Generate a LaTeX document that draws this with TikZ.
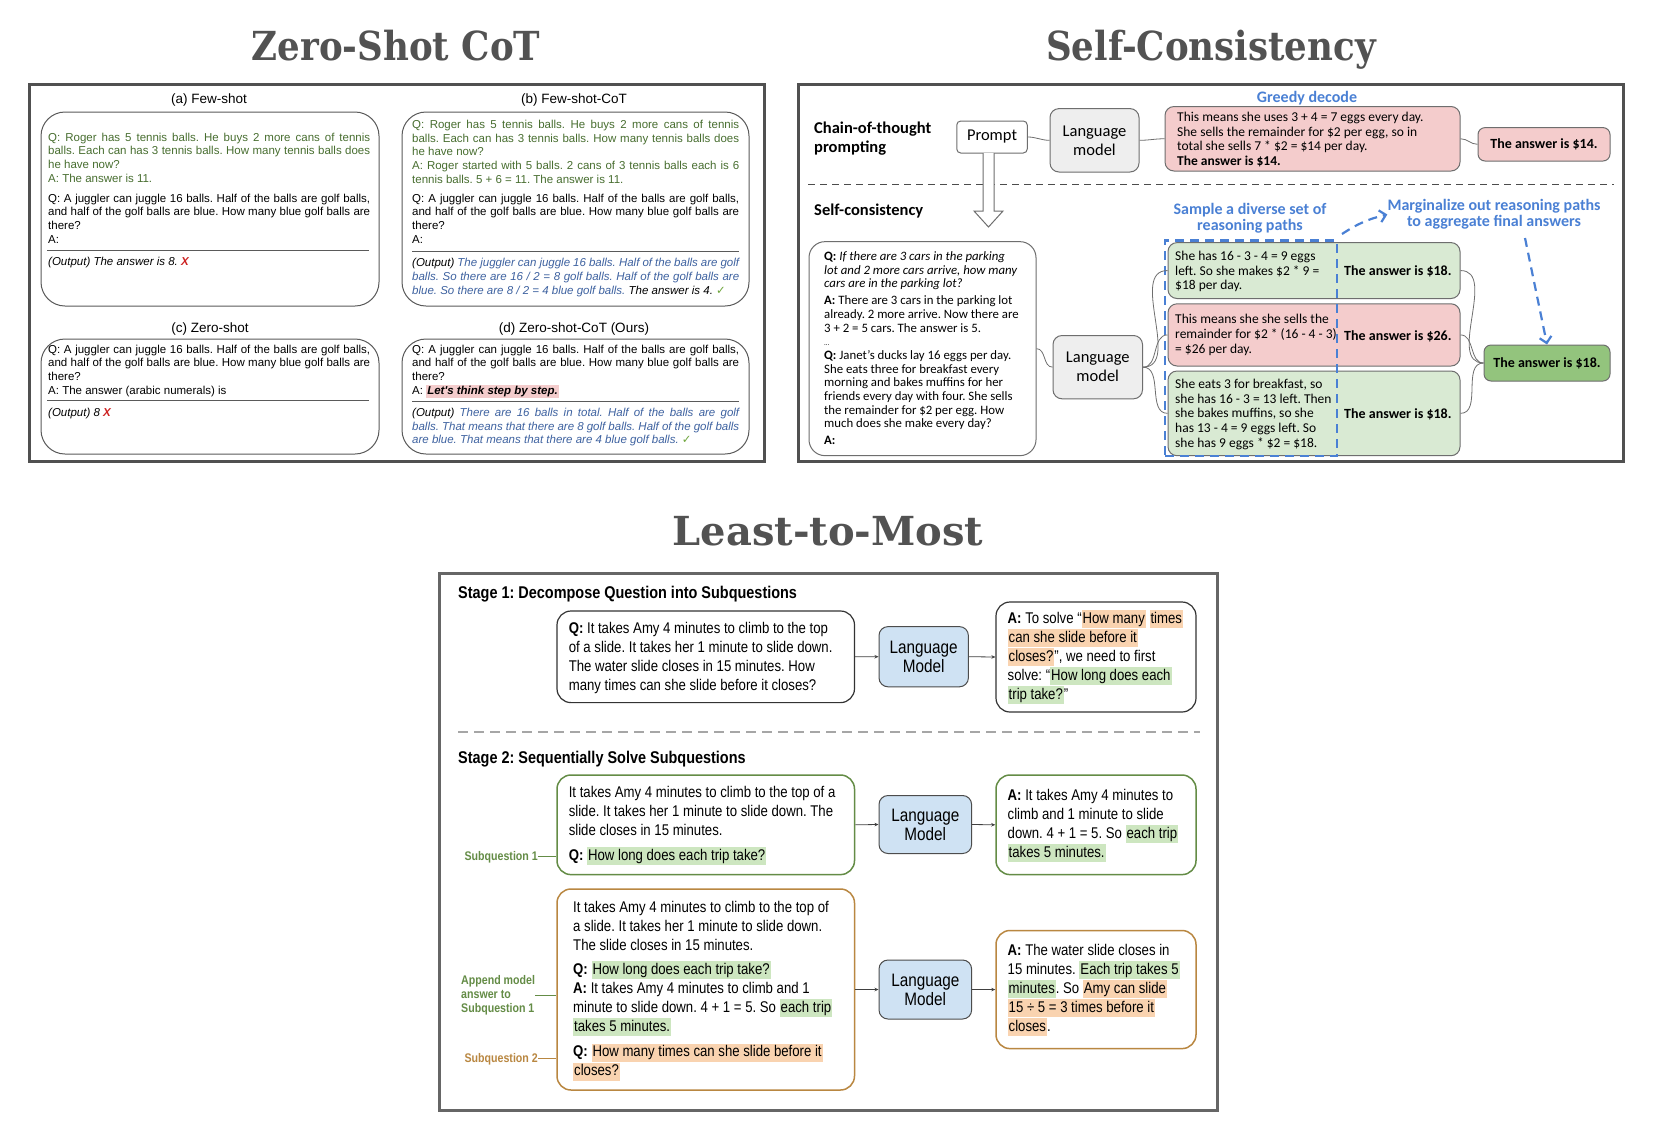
\documentclass[tikz,border=0pt]{standalone}
\usepackage{fontspec}
\usetikzlibrary{arrows.meta}
\setmainfont{Liberation Sans}
\newfontfamily\zf{Liberation Sans}
\newfontfamily\scf{Carlito}
\newfontfamily\lmf[FakeStretch=0.85]{Liberation Sans}
\newfontfamily\ttlf[FakeStretch=0.89]{DejaVu Serif}
\newfontfamily\ttlfw[FakeStretch=1.0]{DejaVu Serif}
\newfontfamily\djv{DejaVu Sans}
\frenchspacing
\definecolor{framec}{RGB}{80,80,80}
\definecolor{titlegray}{RGB}{82,82,82}
\definecolor{zedge}{RGB}{90,90,90}
\definecolor{zgreen}{RGB}{72,110,48}
\definecolor{zblue}{RGB}{62,98,160}
\definecolor{xred}{RGB}{205,35,35}
\definecolor{okgreen}{RGB}{110,165,60}
\definecolor{hlpink}{RGB}{244,204,204}
\definecolor{scblue}{RGB}{74,128,212}
\definecolor{fgreen}{RGB}{217,234,211}
\definecolor{fred}{RGB}{244,204,204}
\definecolor{fgray}{RGB}{238,238,238}
\definecolor{fgreendk}{RGB}{147,196,125}
\definecolor{lmblue}{RGB}{207,226,243}
\definecolor{bgreen}{RGB}{100,140,70}
\definecolor{borange}{RGB}{185,135,65}
\definecolor{hlg}{RGB}{205,230,192}
\definecolor{hlo}{RGB}{249,211,176}
\definecolor{edge}{RGB}{110,110,110}
\newcommand\pbx[2]{\parbox[t]{#1}{#2}}
\newcommand\jl[1]{\makebox[\linewidth][s]{#1}}
\newcommand\zfont{\zf\fontsize{11.5}{13.7}\selectfont}
\newcommand\scfont{\scf\fontsize{13.5}{14.8}\selectfont}
\newcommand\lmfont{\lmf\fontsize{15.5}{19}\selectfont}
\newcommand\xmk{{\color{xred}\bfseries\itshape X}}
\newcommand\cmk{{\djv\color{okgreen}\fontsize{11.5}{12}\selectfont ✓}}
\newcommand\hlg[1]{{\setlength\fboxsep{1pt}\colorbox{hlg}{\rule[-3.8pt]{0pt}{16pt}#1}}}
\newcommand\hlo[1]{{\setlength\fboxsep{1pt}\colorbox{hlo}{\rule[-3.8pt]{0pt}{16pt}#1}}}
\newcommand\hlp[1]{{\setlength\fboxsep{1pt}\colorbox{hlpink}{\rule[-2.5pt]{0pt}{10.5pt}#1}}}
\begin{document}
\begin{tikzpicture}[x=1pt,y=-1pt,
 txt/.style={anchor=base west,inner sep=0pt},
 ttl/.style={anchor=base,inner sep=0pt,text=titlegray,font=\ttlf\bfseries\fontsize{40}{44}\selectfont},
 framebox/.style={draw=framec,line width=3pt},
 zbox/.style={draw=zedge,line width=1pt,rounded corners=24pt,inner sep=0pt},
 zrule/.style={draw=zedge,line width=1pt},
 zlab/.style={inner sep=0pt,font=\zf\fontsize{13.5}{16}\selectfont},
 scbox/.style={draw=edge,line width=1pt,rounded corners=7pt,inner sep=0pt,align=center,font=\scf\fontsize{16.5}{19}\selectfont},
 scans/.style={scbox,font=\scf\bfseries\fontsize{14}{16}\selectfont},
 sclab/.style={txt,font=\scf\bfseries\fontsize{16.5}{19}\selectfont},
 bluelab/.style={inner sep=0pt,align=center,text=scblue,font=\scf\bfseries\fontsize{16}{16}\selectfont},
 conn/.style={draw=edge,line width=0.8pt},
 barrow/.style={draw=scblue,line width=2.2pt,dash pattern=on 9pt off 6pt,-{Straight Barb[length=6pt,width=12pt]}},
 hollow/.style={draw=edge,fill=white,line width=1pt},
 qbx/.style={draw=black!80,line width=1.2pt,rounded corners=14pt,inner sep=0pt},
 lmb/.style={draw=black!70,fill=lmblue,line width=1pt,rounded corners=9pt,inner sep=0pt,align=center,font=\lmf\fontsize{18}{19}\selectfont},
 larr/.style={draw=black!75,line width=0.8pt,-{Stealth[length=4pt,width=3.5pt]}},
 sqlab/.style={inner sep=0pt,font=\lmf\bfseries\fontsize{12.5}{14}\selectfont},
 stlab/.style={txt,font=\lmf\bfseries\fontsize{17}{19}\selectfont}
]
\fill[white] (0,0) rectangle (1654,1136);
\path[use as bounding box] (0,0) rectangle (1654,1136);

% ---------- titles
\node[ttl] (t1) at (396,60) {Zero-Shot CoT};
\node[ttl] (t2) at (1211,60) {Self-Consistency};
\node[ttl,font=\ttlfw\bfseries\fontsize{40}{44}\selectfont] (t3) at (828,545) {Least-to-Most};

% ---------- frames
\draw[framebox] (29.5,84) rectangle (764,461);
\draw[framebox] (798.6,84) rectangle (1623.6,461);
\draw[framebox,draw=black!60] (439,573) rectangle (1217,1110);

% ================= ZERO-SHOT COT =================
\node[zlab] (la) at (209,100) {(a) Few-shot};
\node[zlab] (lb) at (574,100) {(b) Few-shot-CoT};
\node[zlab] (lc) at (210,329) {(c) Zero-shot};
\node[zlab] (ld) at (574,329) {(d) Zero-shot-CoT (Ours)};

\node[zbox,minimum width=338,minimum height=194] (ba) at (210,209) {};
\node[zbox,minimum width=347,minimum height=194] (bb) at (575.5,209) {};
\node[zbox,minimum width=338,minimum height=115] (bc) at (210,396.5) {};
\node[zbox,minimum width=347,minimum height=115] (bd) at (575.5,396.5) {};

% (a)
\node[txt,text=zgreen] (ta1) at (48,141) {\pbx{322pt}{\zfont
\jl{Q: Roger has 5 tennis balls. He buys 2 more cans of tennis}\\
\jl{balls. Each can has 3 tennis balls. How many tennis balls does}\\
he have now?\\
A: The answer is 11.}};
\node[txt] (ta2) at (48,202) {\pbx{322pt}{\zfont
\jl{Q: A juggler can juggle 16 balls. Half of the balls are golf balls,}\\
\jl{and half of the golf balls are blue. How many blue golf balls are}\\
there?\\
A:}};
\draw[zrule] (47,250) -- (369,250);
\node[txt] (ta3) at (48,265.5) {\zfont\itshape (Output) The answer is 8. \xmk};

% (b)
\node[txt,text=zgreen] (tb1) at (412,128.5) {\pbx{327pt}{\zfont
\jl{Q: Roger has 5 tennis balls. He buys 2 more cans of tennis}\\
\jl{balls. Each can has 3 tennis balls. How many tennis balls does}\\
he have now?\\
\jl{A: Roger started with 5 balls. 2 cans of 3 tennis balls each is 6}\\
tennis balls. 5 + 6 = 11. The answer is 11.}};
\node[txt] (tb2) at (412,202) {\pbx{327pt}{\zfont
\jl{Q: A juggler can juggle 16 balls. Half of the balls are golf balls,}\\
\jl{and half of the golf balls are blue. How many blue golf balls are}\\
there?\\
A:}};
\draw[zrule] (412,251) -- (739,251);
\node[txt] (tb3) at (412,266.7) {\pbx{327pt}{\zfont\itshape
\jl{(Output) \textcolor{zblue}{The juggler can juggle 16 balls. Half of the balls are golf}}\\
\jl{\color{zblue}balls. So there are 16 / 2 = 8 golf balls. Half of the golf balls are}\\
{\color{zblue}blue. So there are 8 / 2 = 4 blue golf balls.} The answer is 4. \cmk}};

% (c)
\node[txt] (tc1) at (48,353) {\pbx{322pt}{\zfont
\jl{Q: A juggler can juggle 16 balls. Half of the balls are golf balls,}\\
\jl{and half of the golf balls are blue. How many blue golf balls are}\\
there?\\
A: The answer (arabic numerals) is}};
\draw[zrule] (47,400) -- (369,400);
\node[txt] (tc2) at (48,416.5) {\zfont\itshape (Output) 8 \xmk};

% (d)
\node[txt] (td1) at (412,353) {\pbx{327pt}{\zfont
\jl{Q: A juggler can juggle 16 balls. Half of the balls are golf balls,}\\
\jl{and half of the golf balls are blue. How many blue golf balls are}\\
there?\\
A: \hlp{\bfseries\itshape Let's think step by step.}}};
\draw[zrule] (412,401) -- (739,401);
\node[txt] (td2) at (412,416.5) {\pbx{327pt}{\zfont\itshape
\jl{(Output) \textcolor{zblue}{There are 16 balls in total. Half of the balls are golf}}\\
\jl{\color{zblue}balls. That means that there are 8 golf balls. Half of the golf balls}\\
{\color{zblue}are blue. That means that there are 4 blue golf balls.} \cmk}};

% ================= SELF-CONSISTENCY =================
\node[sclab] (cot) at (814,133) {\pbx{160pt}{Chain-of-thought\\prompting}};
\node[scbox,minimum width=70.5,minimum height=32,rounded corners=4pt] (prompt) at (992,137) {Prompt};
\node[scbox,fill=fgray,minimum width=89,minimum height=63.4,rounded corners=9pt] (lmtop) at (1094.5,140.3) {Language\\model};
\node[bluelab] (greedy) at (1307,98) {Greedy decode};
\node[scbox,fill=fred,minimum width=295,minimum height=64.5,rounded corners=9pt] (redtop) at (1312.5,138.75) {};
\node[txt] (redtxt) at (1177,121.2) {\pbx{280pt}{\scfont This means she uses 3 + 4 = 7 eggs every day.\\
She sells the remainder for \$2 per egg, so in\\
total she sells 7 * \$2 = \$14 per day.\\
\textbf{The answer is \$14.}}};
\node[scans,fill=fred,minimum width=132,minimum height=33.4] (anstop) at (1544,144.3) {The answer is \$14.};
\draw[conn] (prompt.east) to[out=0,in=180] (lmtop.west);
\draw[conn] (lmtop.east) to[out=0,in=180] (redtop.west);
\draw[conn] (redtop.east) to[out=0,in=180] (anstop.west);

\draw[draw=black!70,line width=1.5pt,dash pattern=on 7pt off 5pt] (808,184.6) -- (1614,184.6);
\draw[hollow] (983,153) -- (983,211) -- (974,211) -- (988.5,227) -- (1003,211) -- (994,211) -- (994,153);

\node[sclab] (sclabel) at (814,215.5) {Self-consistency};
\node[bluelab] (sample) at (1250,218) {Sample a diverse set of\\reasoning paths};
\node[bluelab] (marg) at (1494,214.5) {Marginalize out reasoning paths\\to aggregate final answers};

\node[scbox,minimum width=227,minimum height=214,rounded corners=16pt] (qbox) at (922.5,348.65) {};
\node[txt] (qtxt) at (824,260.3) {\pbx{210pt}{\scf\fontsize{12.8}{13.7}\selectfont
\textbf{Q:} \textit{If there are 3 cars in the parking}\\
\textit{lot and 2 more cars arrive, how many}\\
\textit{cars are in the parking lot?}\\[3.2pt]
\textbf{A:} There are 3 cars in the parking lot\\
already. 2 more arrive. Now there are\\
3 + 2 = 5 cars. The answer is 5.\\
{\fontsize{7}{8}\selectfont ...}\\
\textbf{Q:} Janet’s ducks lay 16 eggs per day.\\
She eats three for breakfast every\\
morning and bakes muffins for her\\
friends every day with four. She sells\\
the remainder for \$2 per egg. How\\
much does she make every day?\\[3.3pt]
\textbf{A:}}};

\node[scbox,fill=fgray,minimum width=89.5,minimum height=63.3,rounded corners=9pt] (lmmid) at (1097.75,367.15) {Language\\model};

\node[scbox,fill=fgreen,minimum width=292,minimum height=55.9,rounded corners=9pt] (g1) at (1314,270.55) {};
\node[txt] (g1t) at (1175,260.2) {\pbx{165pt}{\scfont She has 16 - 3 - 4 = 9 eggs\\left. So she makes \$2 * 9 =\\\$18 per day.}};
\node[txt,font=\scf\bfseries\fontsize{14}{16}\selectfont] (g1a) at (1344,275) {The answer is \$18.};

\node[scbox,fill=fred,minimum width=292,minimum height=62.2,rounded corners=9pt] (r2) at (1314,334.9) {};
\node[txt] (r2t) at (1175,323.8) {\pbx{165pt}{\scfont This means she she sells the\\remainder for \$2 * (16 - 4 - 3)\\= \$26 per day.}};
\node[txt,font=\scf\bfseries\fontsize{14}{16}\selectfont] (r2a) at (1344,340.5) {The answer is \$26.};

\node[scbox,fill=fgreen,minimum width=292,minimum height=84.7,rounded corners=9pt] (g3) at (1314,413.35) {};
\node[txt] (g3t) at (1175,388.2) {\pbx{165pt}{\scfont She eats 3 for breakfast, so\\she has 16 - 3 = 13 left. Then\\she bakes muffins, so she\\has 13 - 4 = 9 eggs left. So\\she has 9 eggs * \$2 = \$18.}};
\node[txt,font=\scf\bfseries\fontsize{14}{16}\selectfont] (g3a) at (1344,418.6) {The answer is \$18.};

\node[scans,fill=fgreendk,minimum width=126,minimum height=36] (final) at (1547,363) {The answer is \$18.};

\node[draw=scblue,line width=2.2pt,dash pattern=on 9pt off 6pt,minimum width=172,minimum height=215.2,inner sep=0pt] (bbox) at (1251,348.1) {};

\draw[conn] (qbox.east) to[out=0,in=180] (lmmid.west);
\draw[conn] (lmmid.east) to[out=0,in=180] (g1.west);
\draw[conn] (lmmid.east) to[out=0,in=180] (r2.west);
\draw[conn] (lmmid.east) to[out=0,in=180] (g3.west);
\draw[conn] (g1.east) to[out=0,in=180] (final.west);
\draw[conn] (r2.east) to[out=0,in=180] (final.west);
\draw[conn] (g3.east) to[out=0,in=180] (final.west);

\coordinate (mstart) at (1342,234);
\coordinate (vstart) at (1525,238);
\draw[barrow] (mstart) to[bend left=10] (marg.west);
\draw[barrow] (vstart) -- (final.north);

% ================= LEAST-TO-MOST =================
\node[stlab] (st1) at (458,598.5) {Stage 1: Decompose Question into Subquestions};
\node[qbx,minimum width=297.5,minimum height=91.6] (s1q) at (705.75,656.8) {};
\node[txt] (s1qt) at (568.6,633) {\pbx{290pt}{\lmfont \textbf{Q:} It takes Amy 4 minutes to climb to the top\\of a slide. It takes her 1 minute to slide down.\\The water slide closes in 15 minutes. How\\many times can she slide before it closes?}};
\node[lmb,minimum width=89.4,minimum height=60.2] (s1lm) at (923.7,656.7) {Language\\Model};
\node[qbx,minimum width=200,minimum height=110] (s1a) at (1096,657) {};
\node[txt] (s1at) at (1007.5,623.5) {\pbx{188pt}{\lmfont \textbf{A:} To solve “\hlo{How many} \hlo{times}\\\hlo{can she slide before it}\\\hlo{closes?}”, we need to first\\solve: “\hlg{How long does each}\\\hlg{trip take?}”}};
\draw[larr] (s1q.east) -- (s1lm.west);
\draw[larr] (s1lm.east) -- (s1a.west);

\draw[draw=black!35,line width=2.5pt,dash pattern=on 10pt off 6pt] (458,732) -- (1199.5,732);

\node[stlab] (st2) at (458,763) {Stage 2: Sequentially Solve Subquestions};
\node[qbx,draw=bgreen,line width=1.5pt,minimum width=297.5,minimum height=99.6] (s2q) at (705.75,824.8) {};
\node[txt] (s2qt) at (568.6,797) {\pbx{290pt}{\lmfont It takes Amy 4 minutes to climb to the top of a\\slide. It takes her 1 minute to slide down. The\\slide closes in 15 minutes.\\[6.6pt]\textbf{Q:} \hlg{How long does each trip take?}}};
\node[lmb,minimum width=92.6,minimum height=58] (s2lm) at (925.3,824.5) {Language\\Model};
\node[qbx,draw=bgreen,line width=1.5pt,minimum width=200,minimum height=99.6] (s2a) at (1096,824.8) {};
\node[txt] (s2at) at (1007.5,800.5) {\pbx{188pt}{\lmfont \textbf{A:} It takes Amy 4 minutes to\\climb and 1 minute to slide\\down. 4 + 1 = 5. So \hlg{each trip}\\\hlg{takes 5 minutes.}}};
\draw[larr] (s2q.east) -- (s2lm.west);
\draw[larr] (s2lm.east) -- (s2a.west);
\node[sqlab,text=bgreen,anchor=base east] (sq1) at (538,860) {Subquestion 1};
\draw[bgreen,line width=1pt] (sq1.east) -- (sq1.east -| s2q.west);

\node[qbx,draw=borange,line width=1.5pt,minimum width=297.5,minimum height=201] (s3q) at (705.75,989.5) {};
\node[txt] (s3qt) at (573,912.3) {\pbx{285pt}{\lmfont It takes Amy 4 minutes to climb to the top of\\a slide. It takes her 1 minute to slide down.\\The slide closes in 15 minutes.\\[5.3pt]\textbf{Q:} \hlg{How long does each trip take?}\\\textbf{A:} It takes Amy 4 minutes to climb and 1\\minute to slide down. 4 + 1 = 5. So \hlg{each trip}\\\hlg{takes 5 minutes.}\\[6.3pt]\textbf{Q:} \hlo{How many times can she slide before it}\\\hlo{closes?}}};
\node[lmb,minimum width=92.6,minimum height=59] (s3lm) at (925.3,989.5) {Language\\Model};
\node[qbx,draw=borange,line width=1.5pt,minimum width=200,minimum height=118.1] (s3a) at (1096,989.55) {};
\node[txt] (s3at) at (1007.5,955.5) {\pbx{188pt}{\lmfont \textbf{A:} The water slide closes in\\15 minutes. \hlg{Each trip takes 5}\\\hlg{minutes}. So \hlo{Amy can slide}\\\hlo{15 ÷ 5 = 3 times before it}\\\hlo{closes}.}};
\draw[larr] (s3q.east) -- (s3lm.west);
\draw[larr] (s3lm.east) -- (s3a.west);
\node[sqlab,text=bgreen,anchor=west,align=left] (app) at (461,995) {Append model\\answer to\\Subquestion 1};
\draw[bgreen,line width=1pt] (app.east) -- (app.east -| s3q.west);
\node[sqlab,text=borange,anchor=base east] (sq2) at (538,1062) {Subquestion 2};
\draw[borange,line width=1pt] (sq2.east) -- (sq2.east -| s3q.west);
\end{tikzpicture}
\end{document}
